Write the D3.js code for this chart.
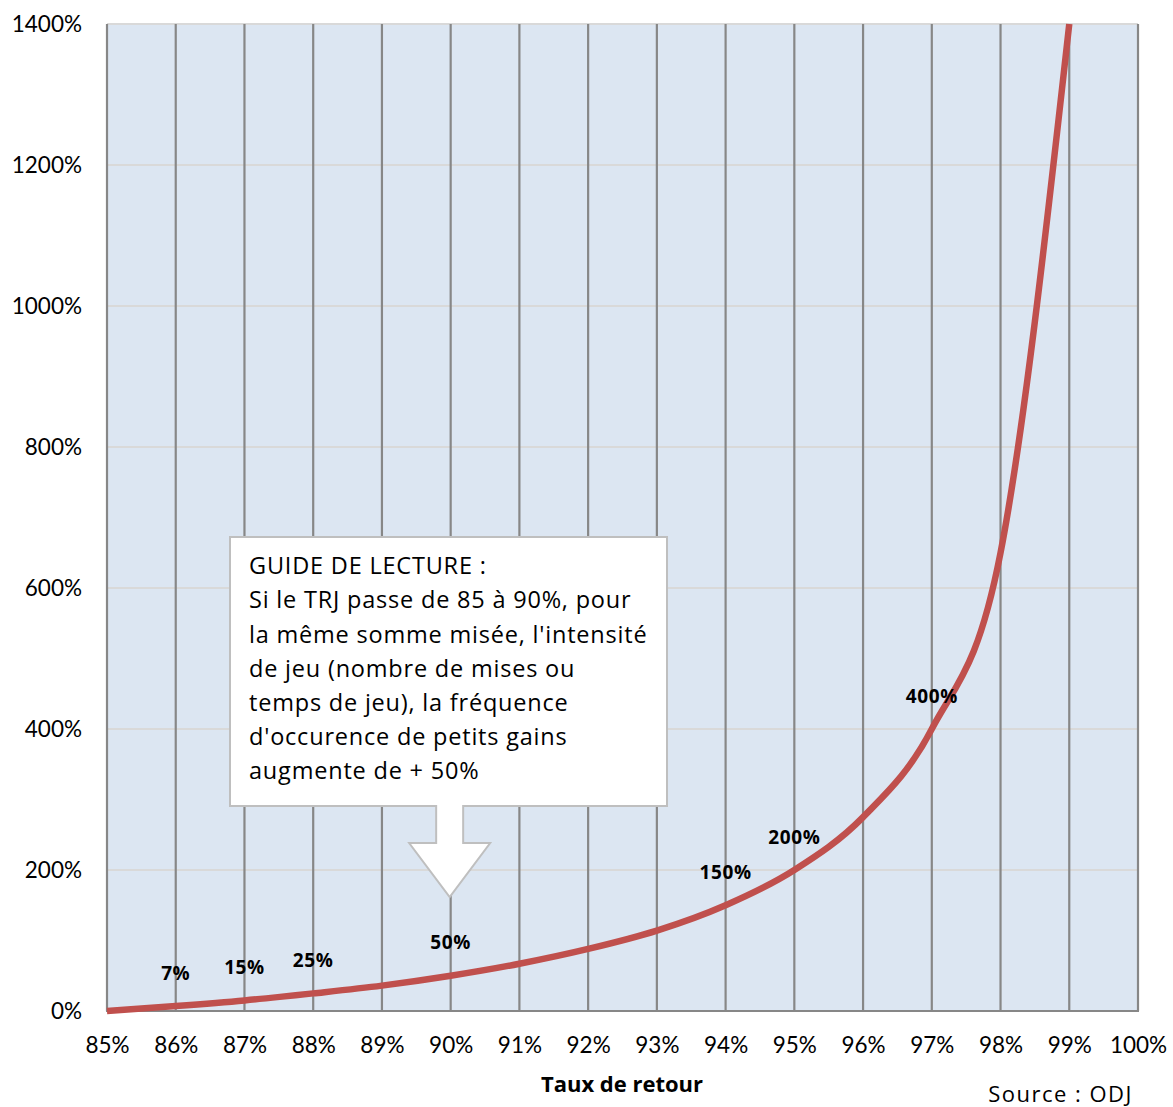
<!DOCTYPE html>
<html><head><meta charset="utf-8">
<script src="https://cdn.jsdelivr.net/npm/d3@7"></script>
<style>body{margin:0;background:#fff;} svg{display:block;font-family:Lato, "Open Sans", sans-serif;}</style>
</head><body>
<svg id="c" width="1173" height="1107"></svg>
<script>
// Data
const trj = [85, 86, 87, 88, 89, 90, 91, 92, 93, 94, 95, 96, 97, 98, 99];
const intensity = [0, 7, 15, 25, 36, 50, 67, 88, 114, 150, 200, 275, 400, 650, 1400];
const labelTrj = [86, 87, 88, 90, 94, 95, 97];
const labelText = ["7%", "15%", "25%", "50%", "150%", "200%", "400%"];
const xTicks = [85, 86, 87, 88, 89, 90, 91, 92, 93, 94, 95, 96, 97, 98, 99, 100];
const yTicks = [0, 200, 400, 600, 800, 1000, 1200, 1400];
const guideLines = ["GUIDE DE LECTURE :", "Si le TRJ passe de 85 à 90%, pour", "la même somme misée, l'intensité", "de jeu (nombre de mises ou", "temps de jeu), la fréquence", "d'occurence de petits gains", "augmente de + 50%"];
const xTitle = "Taux de retour";
const source = "Source : ODJ";

const svg = d3.select("#c");
const L = 107, R = 1138, T = 24, B = 1011;
const x = d3.scaleLinear().domain([85, 100]).range([L, R]);
const y = d3.scaleLinear().domain([0, 1400]).range([B, T]);

svg.append("rect").attr("x", L).attr("y", T).attr("width", R - L).attr("height", B - T).attr("fill", "#dce6f2");

// horizontal gridlines
svg.append("g").selectAll("line").data(yTicks.filter(d => d > 0)).join("line")
  .attr("x1", L).attr("x2", R).attr("y1", d => y(d)).attr("y2", d => y(d))
  .attr("stroke", "#d9d9d9").attr("stroke-width", 2);
// vertical gridlines
svg.append("g").selectAll("line").data(xTicks).join("line")
  .attr("x1", d => x(d)).attr("x2", d => x(d)).attr("y1", T).attr("y2", B)
  .attr("stroke", "#878787").attr("stroke-width", 2.2);
// bottom axis line
svg.append("line").attr("x1", L - 1).attr("x2", R + 1).attr("y1", B).attr("y2", B).attr("stroke", "#878787").attr("stroke-width", 2.2);

// axes labels
const xa = d3.axisBottom(x).tickValues(xTicks).tickFormat(d => d + "%").tickSize(0).tickPadding(0);
const gx = svg.append("g").attr("transform", `translate(0,${B})`).call(xa);
gx.select(".domain").remove();
gx.selectAll("text").attr("font-size", 22.5).attr("fill", "#000").attr("dy", null).attr("y", 42).attr("font-family", "Lato");

const ya = d3.axisLeft(y).tickValues(yTicks).tickFormat(d => d + "%").tickSize(0).tickPadding(0);
const gy = svg.append("g").attr("transform", `translate(82,0)`).call(ya);
gy.select(".domain").remove();
gy.selectAll("text").attr("font-size", 22.5).attr("fill", "#000").attr("dy", "0.35em").attr("font-family", "Lato");

// curve
const line = d3.line().x((d, i) => x(trj[i])).y(d => y(d)).curve(d3.curveMonotoneX);
svg.append("path").datum(intensity).attr("d", line).attr("fill", "none")
  .attr("stroke", "#c0504d").attr("stroke-width", 6.5);

// data labels
svg.append("g").selectAll("text").data(labelTrj).join("text")
  .attr("x", d => x(d)).attr("y", (d) => y(intensity[trj.indexOf(d)]) - 33)
  .attr("dy", "0.35em").attr("text-anchor", "middle").attr("font-size", 19).attr("font-weight", "bold")
  .attr("letter-spacing", 0.6).attr("font-family", "Open Sans")
  .text((d, i) => labelText[i]);

// callout box
const bx = 230, by = 537, bw = 437, bh = 269;
const tipX = x(90) - 1, tipY = 897;
const sw = 13.5, hw = 40.5, neckY = 843;
const pathD = `M${bx},${by} H${bx + bw} V${by + bh} H${tipX + sw} V${neckY} H${tipX + hw} L${tipX},${tipY} L${tipX - hw},${neckY} H${tipX - sw} V${by + bh} H${bx} Z`;
svg.append("path").attr("d", pathD).attr("fill", "#fff").attr("stroke", "#bfbfbf").attr("stroke-width", 2);
svg.append("g").selectAll("text").data(guideLines).join("text")
  .attr("x", 249).attr("y", (d, i) => 566 + i * 34.2).attr("dy", "0.35em")
  .attr("font-size", 23.5).attr("letter-spacing", 0.8).attr("font-family", "Open Sans").attr("fill", "#000").text(d => d);

svg.append("text").attr("x", 622).attr("y", 1092).attr("text-anchor", "middle")
  .attr("font-size", 22).attr("font-family", "Open Sans").attr("font-weight", "bold").text(xTitle);
svg.append("text").attr("x", 1133).attr("y", 1102).attr("text-anchor", "end")
  .attr("font-size", 22).attr("letter-spacing", 1.5).attr("font-family", "Open Sans").text(source);
</script>
</body></html>
